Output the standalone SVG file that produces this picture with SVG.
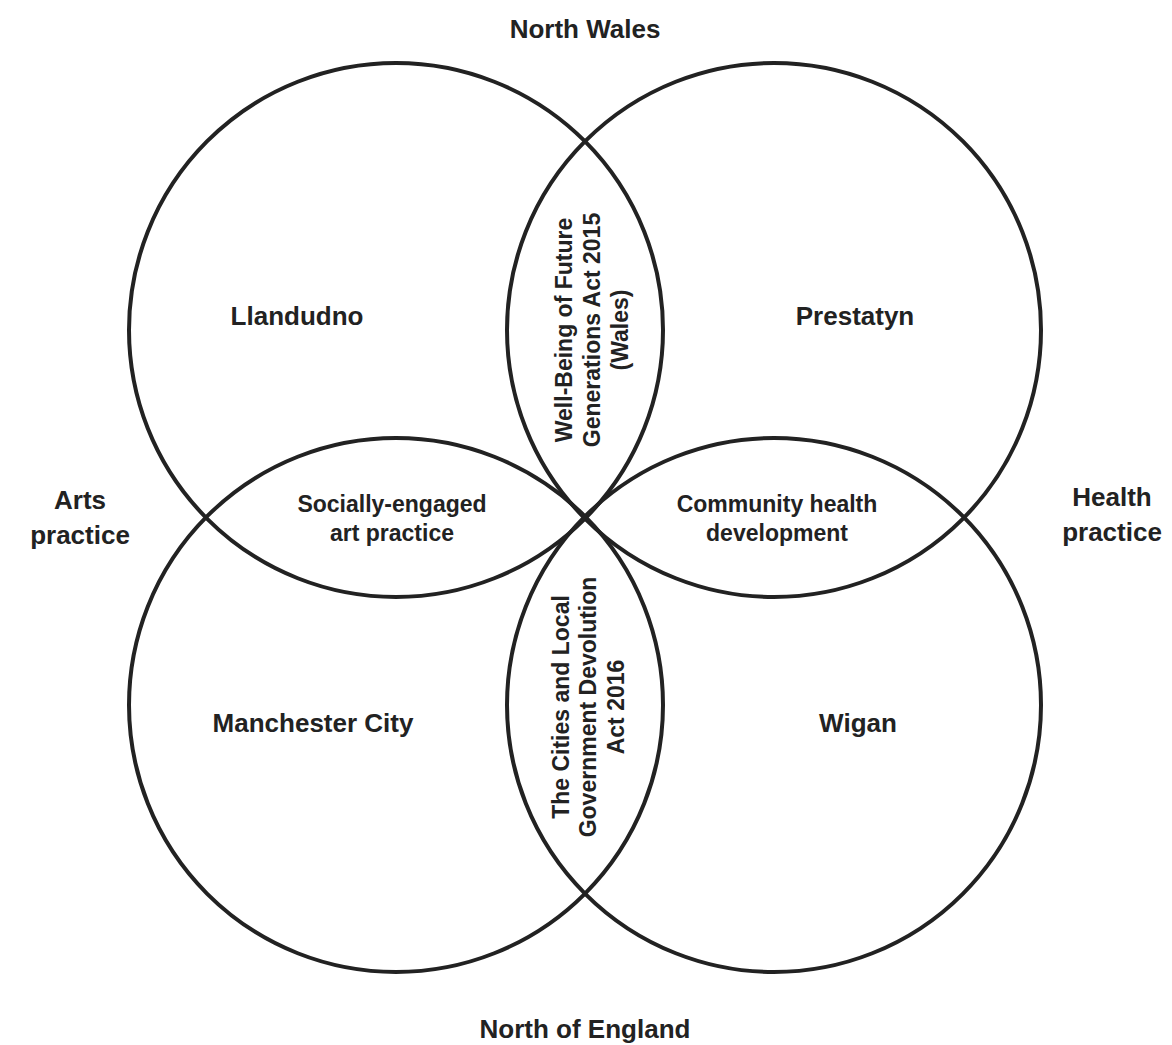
<svg xmlns="http://www.w3.org/2000/svg" width="1172" height="1045" viewBox="0 0 1172 1045">
<style>
.c{fill:none;stroke:#222;stroke-width:4}
text{font-family:"Liberation Sans",Arial,sans-serif;font-weight:bold;fill:#222;text-anchor:middle}
.m{font-size:26px}
.s{font-size:23px}
</style>
<rect width="1172" height="1045" fill="#fff"/>
<g id="circles">
<circle id="tl" class="c" cx="396" cy="330" r="267"/>
<circle id="tr" class="c" cx="774" cy="330" r="267"/>
<circle id="bl" class="c" cx="396" cy="705" r="267"/>
<circle id="br" class="c" cx="774" cy="705" r="267"/>
</g>
<g id="labels">
<text class="m" x="585" y="38">North Wales</text>
<text class="m" x="297" y="325">Llandudno</text>
<text class="m" x="855" y="325">Prestatyn</text>
<text class="m" x="313" y="732">Manchester City</text>
<text class="m" x="858" y="732">Wigan</text>
<text class="m" x="585" y="1038">North of England</text>
<text class="m"><tspan x="80" y="509">Arts</tspan><tspan x="80" y="544">practice</tspan></text>
<text class="m"><tspan x="1112" y="506">Health</tspan><tspan x="1112" y="541">practice</tspan></text>
<text class="s"><tspan x="392" y="512">Socially-engaged</tspan><tspan x="392" y="541">art practice</tspan></text>
<text class="s"><tspan x="777" y="512">Community health</tspan><tspan x="777" y="541">development</tspan></text>
<text class="s" transform="translate(585,330) rotate(-90)"><tspan x="0" y="-13">Well-Being of Future</tspan><tspan x="0" y="15">Generations Act 2015</tspan><tspan x="0" y="43">(Wales)</tspan></text>
<text class="s" transform="translate(585,707) rotate(-90)"><tspan x="0" y="-16">The Cities and Local</tspan><tspan x="0" y="11">Government Devolution</tspan><tspan x="0" y="39">Act 2016</tspan></text>
</g>
</svg>
